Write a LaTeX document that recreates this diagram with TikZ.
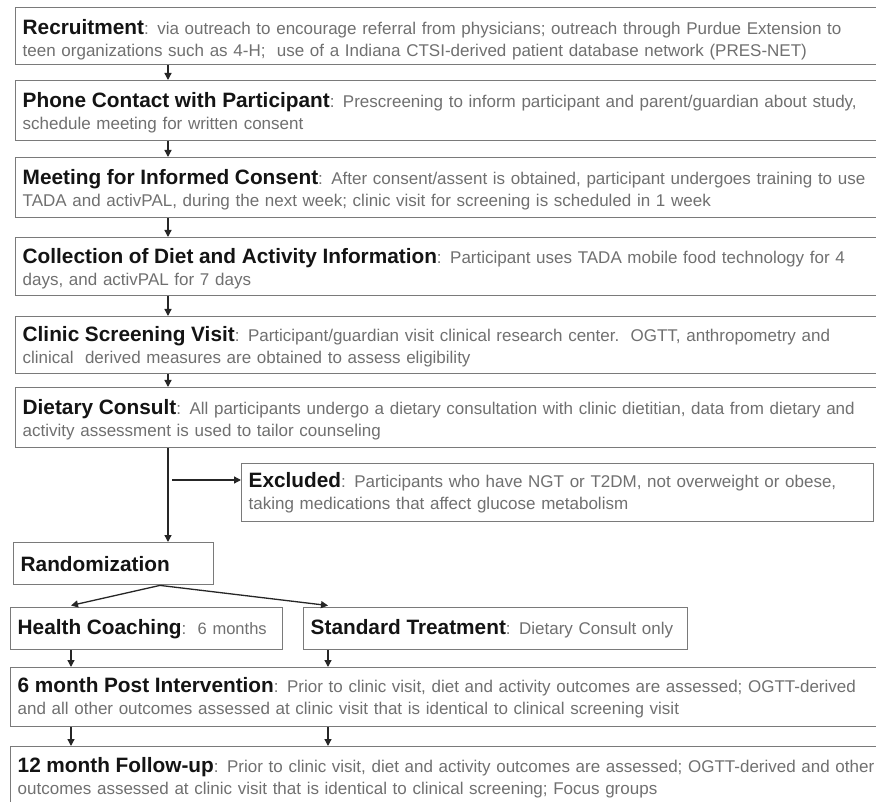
\documentclass[tikz,border=0pt]{standalone}
\usepackage{fontspec}
\setmainfont{Liberation Sans}
\usetikzlibrary{arrows.meta}
\definecolor{bodygray}{HTML}{707070}
\definecolor{boxline}{HTML}{7A7A7A}
\definecolor{titleblack}{HTML}{141414}
\newcommand{\ttl}[1]{{\fontsize{20.8}{22}\selectfont\bfseries\color{titleblack}#1}}
\begin{document}
\begin{tikzpicture}[x=1pt,y=-1pt,
  box/.style={draw=boxline, line width=1.4pt, rectangle, anchor=north west,
    inner xsep=7pt, inner ysep=0pt, align=left,
    font=\fontsize{17}{22}\selectfont, text=bodygray},
  lower/.style={execute at begin node={\rule{0pt}{#1}}},
  arr/.style={draw=black!85, line width=1.3pt, -{Triangle[length=7pt,width=7pt]}}]
\useasboundingbox (0,0) rectangle (876,802);
\fill[white] (0,0) rectangle (876,802);

\node[box, lower=23pt, minimum width=870pt, minimum height=57pt, text width=856pt] (rec) at (15,7)
  {\ttl{Recruitment}: via outreach to encourage referral from physicians; outreach through Purdue Extension to\\
   teen organizations such as 4-H;\ \ use of a Indiana CTSI-derived patient database network (PRES-NET)};
\node[box, lower=19pt, minimum width=870pt, minimum height=60pt, text width=856pt] (phone) at (15,80)
  {\ttl{Phone Contact with Participant}: Prescreening to inform participant and parent/guardian about study,\\
   schedule meeting for written consent};
\node[box, lower=20pt, minimum width=870pt, minimum height=60pt, text width=856pt] (meet) at (15,157)
  {\ttl{Meeting for Informed Consent}: After consent/assent is obtained, participant undergoes training to use\\
   TADA and activPAL, during the next week; clinic visit for screening is scheduled in 1 week};
\node[box, lower=20pt, minimum width=870pt, minimum height=58pt, text width=856pt] (coll) at (15,237)
  {\ttl{Collection of Diet and Activity Information}: Participant uses TADA mobile food technology for 4\\
   days, and activPAL for 7 days};
\node[box, lower=19pt, minimum width=870pt, minimum height=57pt, text width=856pt] (clin) at (15,316)
  {\ttl{Clinic Screening Visit}: Participant/guardian visit clinical research center.\ \ OGTT, anthropometry and\\
   clinical\ \ derived measures are obtained to assess eligibility};
\node[box, lower=19pt, minimum width=870pt, minimum height=60pt, text width=856pt] (diet) at (15,387)
  {\ttl{Dietary Consult}: All participants undergo a dietary consultation with clinic dietitian, data from dietary and\\
   activity assessment is used to tailor counseling};
\node[box, minimum width=632pt, minimum height=58pt, text width=618pt] (excl) at (241,463)
  {\ttl{Excluded}: Participants who have NGT or T2DM, not overweight or obese,\\
   taking medications that affect glucose metabolism};
\node[box, minimum width=200pt, minimum height=42pt, text width=186pt] (rand) at (13,542)
  {\ttl{Randomization}};
\node[box, minimum width=272pt, minimum height=42pt, text width=258pt] (hc) at (10,607)
  {\ttl{Health Coaching}:\ \ {\fontsize{16.5}{22}\selectfont 6 months}};
\node[box, minimum width=384pt, minimum height=42pt, text width=370pt] (st) at (303,607)
  {\ttl{Standard Treatment}: Dietary Consult only};
\node[box, lower=17pt, minimum width=875pt, minimum height=59pt, text width=861pt] (six) at (10,667)
  {\ttl{6 month Post Intervention}: Prior to clinic visit, diet and activity outcomes are assessed; OGTT-derived\\
   and all other outcomes assessed at clinic visit that is identical to clinical screening visit};
\node[box, minimum width=875pt, minimum height=62pt, text width=861pt] (twelve) at (10,746)
  {\ttl{12 month Follow-up}: Prior to clinic visit, diet and activity outcomes are assessed; OGTT-derived and other\\
   outcomes assessed at clinic visit that is identical to clinical screening; Focus groups};

\coordinate (cx) at (168,0);
\coordinate (rx) at (160,0);
\coordinate (lx) at (71,0);
\coordinate (sx) at (328,0);
\coordinate (ey) at (0,480);
\coordinate (ex) at (172,0);

\draw[arr] (rec.south -| cx) -- (phone.north -| cx);
\draw[arr] (phone.south -| cx) -- (meet.north -| cx);
\draw[arr] (meet.south -| cx) -- (coll.north -| cx);
\draw[arr] (coll.south -| cx) -- (clin.north -| cx);
\draw[arr] (clin.south -| cx) -- (diet.north -| cx);
\draw[arr] (diet.south -| cx) -- (rand.north -| cx);
\draw[arr] (ex |- ey) -- (excl.west |- ey);
\draw[arr] (rand.south -| rx) -- ([yshift=1.5pt]hc.north -| lx);
\draw[arr] (rand.south -| rx) -- ([yshift=1.5pt]st.north -| sx);
\draw[arr] (hc.south -| lx) -- (six.north -| lx);
\draw[arr] (st.south -| sx) -- (six.north -| sx);
\draw[arr] (six.south -| lx) -- (twelve.north -| lx);
\draw[arr] (six.south -| sx) -- (twelve.north -| sx);
\end{tikzpicture}
\end{document}
